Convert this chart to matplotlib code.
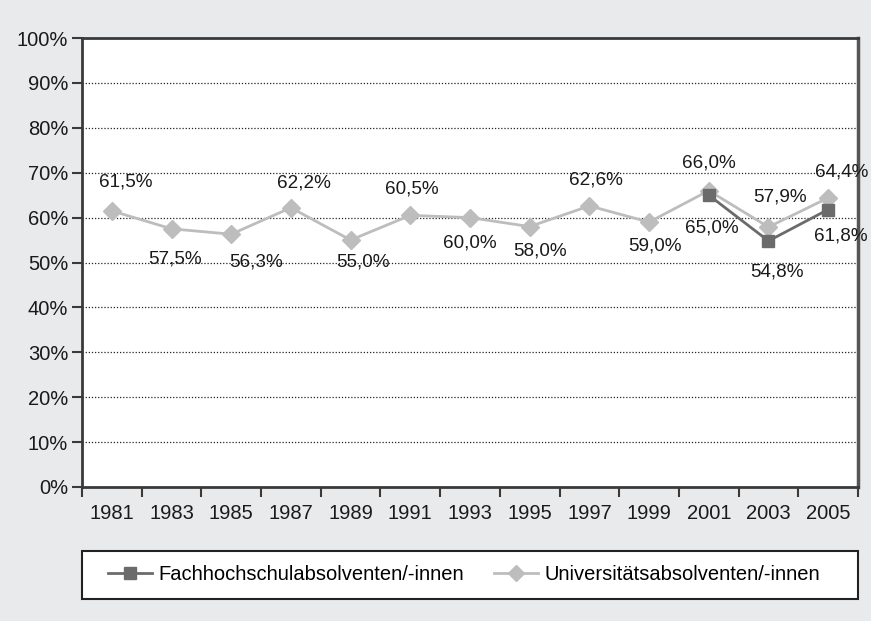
import matplotlib
matplotlib.use("Agg")
import matplotlib.pyplot as plt
from matplotlib.patches import Rectangle
from matplotlib.lines import Line2D
import numpy as np

plt.rcParams["font.family"] = ["Liberation Sans", "DejaVu Sans"]

years = ["1981", "1983", "1985", "1987", "1989", "1991", "1993",
         "1995", "1997", "1999", "2001", "2003", "2005"]
uni_values = [61.5, 57.5, 56.3, 62.2, 55.0, 60.5, 60.0,
              58.0, 62.6, 59.0, 66.0, 57.9, 64.4]
fh_years = ["2001", "2003", "2005"]
fh_values = [65.0, 54.8, 61.8]
y_ticks = [0, 10, 20, 30, 40, 50, 60, 70, 80, 90, 100]

# label offsets in pixels (dx, dy)
uni_offsets = [(14, 29), (3, -30), (25, -28), (13, 25), (12, -22), (2, 26),
               (0, -25), (10, -24), (7, 26), (6, -24), (0, 28), (12, 30),
               (14, 26)]
fh_offsets = [(3, -33), (9, -31), (13, -26)]

BG = "#E9EAEC"
UNI_C = "#BDBDBD"
FH_C = "#6B6B6B"
SPINE = "#3A3A3A"
TXT = "#1a1a1a"

W, H = 871, 621
fig = plt.figure(figsize=(W / 100, H / 100), dpi=100, facecolor=BG)
ax = fig.add_axes([82 / W, (H - 487) / H, (858 - 82) / W, (487 - 38) / H])
ax.set_facecolor("white")

x = np.arange(len(years))
fh_x = [years.index(y) for y in fh_years]

ax.plot(x, uni_values, color=UNI_C, lw=2, marker="D", ms=9.5,
        mec=UNI_C, mfc=UNI_C, zorder=3)
ax.plot(fh_x, fh_values, color=FH_C, lw=2, marker="s", ms=9,
        mec=FH_C, mfc=FH_C, zorder=4)

for xi, v, (dx, dy) in zip(x, uni_values, uni_offsets):
    ax.annotate(f"{v:.1f}%".replace(".", ","), (xi, v), xytext=(dx, dy),
                textcoords="offset pixels", ha="center", va="center",
                fontsize=13.6, color=TXT, zorder=5)
for xi, v, (dx, dy) in zip(fh_x, fh_values, fh_offsets):
    ax.annotate(f"{v:.1f}%".replace(".", ","), (xi, v), xytext=(dx, dy),
                textcoords="offset pixels", ha="center", va="center",
                fontsize=13.6, color=TXT, zorder=5)

ax.set_xlim(-0.5, len(years) - 0.5)
ax.set_ylim(0, 100)
ax.set_yticks(y_ticks)
ax.set_yticklabels([f"{t}%" for t in y_ticks], fontsize=14.5, color=TXT)
for t in y_ticks[1:-1]:
    ax.axhline(t, color="#222222", lw=0.9, ls=(0, (1, 1.5)), zorder=1)

ax.set_xticks(np.arange(-0.5, len(years), 1.0))
ax.set_xticklabels([])
ax.set_xticks(x, minor=True)
ax.set_xticklabels(years, minor=True, fontsize=14.5, color=TXT)
ax.tick_params(axis="x", which="minor", length=0, pad=12)
ax.tick_params(axis="x", which="major", length=7, width=1.5, color=SPINE,
               direction="out")
ax.tick_params(axis="y", length=7, width=1.5, color=SPINE, pad=3)

for side in ["left", "top", "bottom"]:
    ax.spines[side].set_color(SPINE)
    ax.spines[side].set_linewidth(2)
ax.spines["right"].set_color("#555555")
ax.spines["right"].set_linewidth(2.5)

# legend frame
fig.patches.append(Rectangle((82 / W, (H - 599) / H), (858 - 82) / W,
                             (599 - 551) / H, transform=fig.transFigure,
                             facecolor="white", edgecolor="#222222", lw=1.5))
handles = [
    Line2D([], [], color=FH_C, lw=2, marker="s", ms=9, mec=FH_C),
    Line2D([], [], color=UNI_C, lw=2, marker="D", ms=8, mec=UNI_C),
]
fig.legend(handles, ["Fachhochschulabsolventen/-innen",
                     "Universitätsabsolventen/-innen"],
           loc="center", bbox_to_anchor=(464 / W, (H - 575) / H), ncol=2,
           frameon=False, fontsize=14.5, handlelength=2.2, handletextpad=0.3,
           columnspacing=1.5)

fig.savefig("out.png", dpi=100, facecolor=BG)
